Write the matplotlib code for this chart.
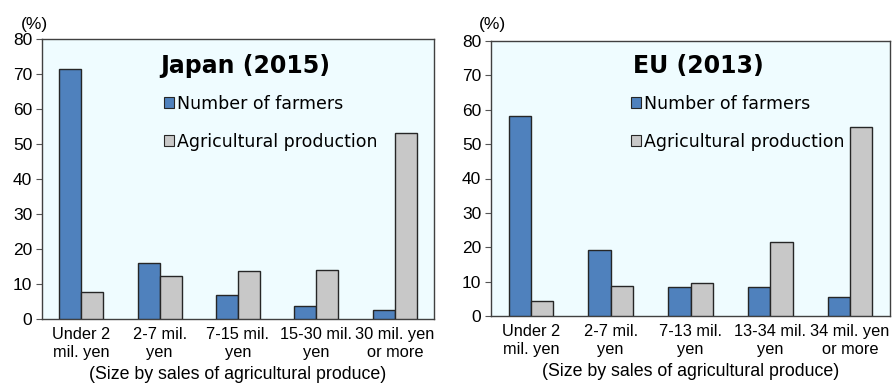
import matplotlib

matplotlib.use("Agg")

import matplotlib.pyplot as plt
import matplotlib.transforms as mtransforms
from matplotlib.patches import Patch
import numpy as np

JP_CATS = ["Under 2\nmil. yen", "2-7 mil.\nyen", "7-15 mil.\nyen", "15-30 mil.\nyen", "30 mil. yen\nor more"]
JP_FARMERS = [71.3, 16.1, 6.9, 3.6, 2.6]
JP_PRODUCTION = [7.6, 12.2, 13.8, 14.1, 53.1]

EU_CATS = ["Under 2\nmil. yen", "2-7 mil.\nyen", "7-13 mil.\nyen", "13-34 mil.\nyen", "34 mil. yen\nor more"]
EU_FARMERS = [58.2, 19.2, 8.4, 8.4, 5.4]
EU_PRODUCTION = [4.4, 8.8, 9.7, 21.6, 54.9]

BLUE = "#4f81bd"
GRAY = "#c8c8c8"
EDGE = "#262626"
BG = "#effcff"
TITLE_FONT = "DejaVu Sans"
TICK_FONT = "Liberation Sans"


def draw_panel(fig, rect, cats, farmers, production, title, title_xy, legend_xy, label_shift):
    ax = fig.add_axes(rect)
    ax.set_facecolor(BG)
    x = np.arange(len(cats))
    w = 0.28
    ax.bar(x - w / 2, farmers, w, color=BLUE, edgecolor=EDGE, linewidth=1.0, zorder=3)
    ax.bar(x + w / 2, production, w, color=GRAY, edgecolor=EDGE, linewidth=1.0, zorder=3)
    ax.set_xlim(-0.5, len(cats) - 0.5)
    ax.set_ylim(0, 80)
    ax.set_yticks(range(0, 81, 10))
    ax.set_xticks(x)
    ax.set_xticklabels(cats, fontsize=11.8, family=TICK_FONT, linespacing=1.25)
    for lab, dx in zip(ax.get_xticklabels(), label_shift):
        lab.set_transform(lab.get_transform() + mtransforms.ScaledTranslation(dx / 100, 0, fig.dpi_scale_trans))
    ax.tick_params(axis="x", length=0, pad=6)
    ax.tick_params(axis="y", direction="out", length=4, width=0.8, labelsize=12.5, pad=3, color="#555555")
    for lab in ax.get_yticklabels():
        lab.set_family(TICK_FONT)
    for sp in ax.spines.values():
        sp.set_color("#404040")
        sp.set_linewidth(1.0)
    ax.set_xlabel("(Size by sales of agricultural produce)", fontsize=12.8, family=TICK_FONT, labelpad=4)

    ax.text(title_xy[0], title_xy[1], title, transform=ax.transAxes, ha="center", va="center",
            fontsize=17, fontweight="bold", family=TITLE_FONT)
    handles = [Patch(facecolor=BLUE, edgecolor=EDGE, linewidth=0.8, label="Number of farmers"),
               Patch(facecolor=GRAY, edgecolor=EDGE, linewidth=0.8, label="Agricultural production")]
    leg = ax.legend(handles=handles, loc="upper left", bbox_to_anchor=legend_xy, frameon=False,
                    fontsize=12.5, handlelength=0.6, handleheight=0.6, handletextpad=0.15,
                    labelspacing=1.15, borderaxespad=0, borderpad=0)
    for t in leg.get_texts():
        t.set_family(TITLE_FONT)
    return ax


fig = plt.figure(figsize=(8.93, 3.88), dpi=100)

draw_panel(fig, [42 / 893, 1 - 319 / 388, 392 / 893, 280 / 388], JP_CATS, JP_FARMERS, JP_PRODUCTION,
           "Japan (2015)", (0.518, 0.905), (0.31, 0.80), [0, 0, 0, 10, 10])
draw_panel(fig, [491 / 893, 1 - 316 / 388, 399 / 893, 275 / 388], EU_CATS, EU_FARMERS, EU_PRODUCTION,
           "EU (2013)", (0.52, 0.91), (0.35, 0.805), [-6, -6, -5, 3, 6])

fig.text(34 / 893, 1 - 25 / 388, "(%)", ha="center", va="center", fontsize=12.5, family=TICK_FONT)
fig.text(492 / 893, 1 - 25 / 388, "(%)", ha="center", va="center", fontsize=12.5, family=TICK_FONT)

fig.savefig("out.png", dpi=100)
